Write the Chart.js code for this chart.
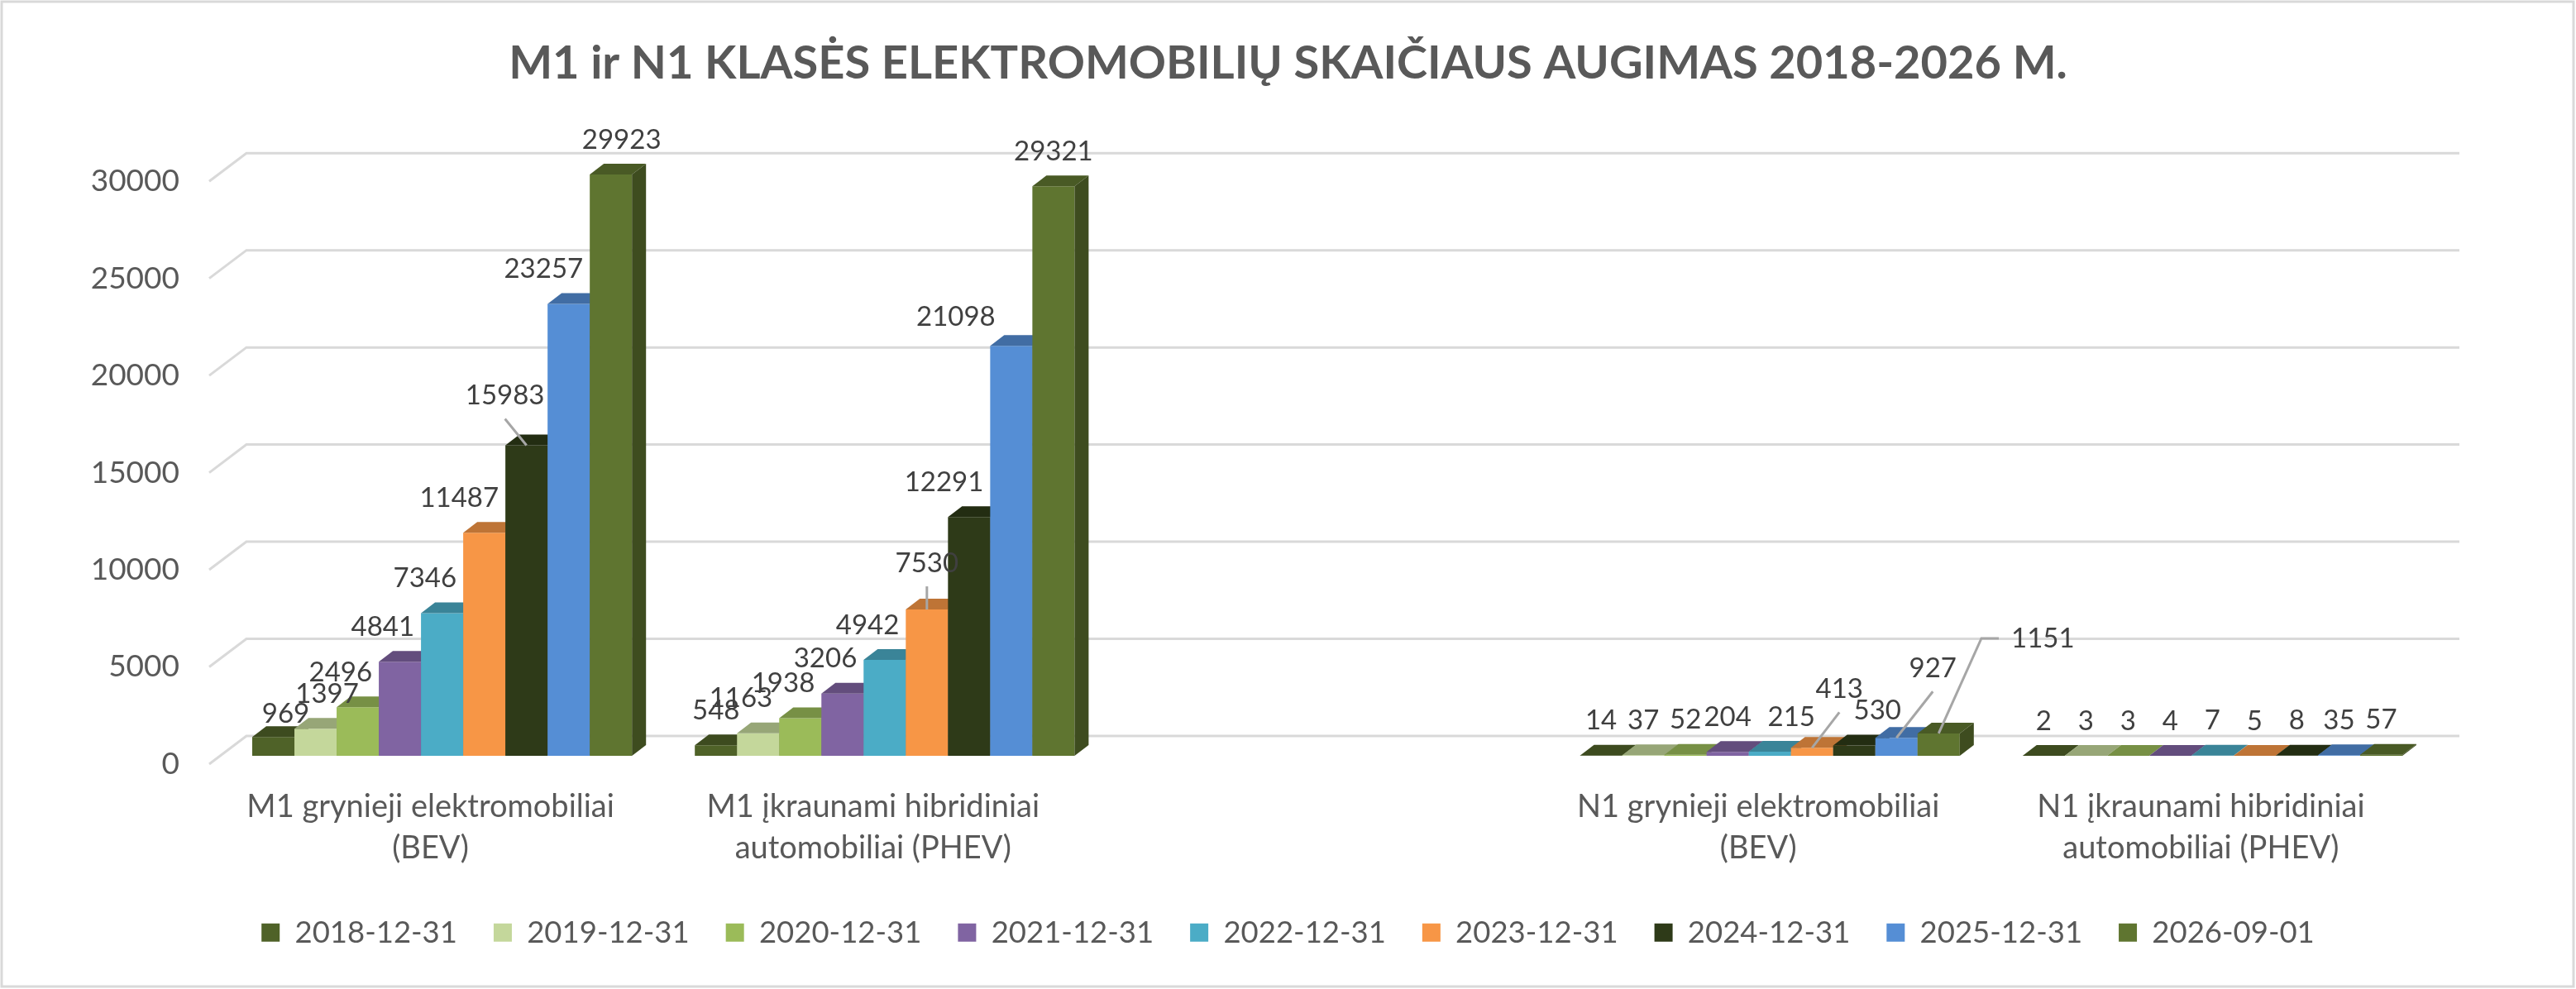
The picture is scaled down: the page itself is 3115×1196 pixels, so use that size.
<!DOCTYPE html>
<html lang="lt">
<head>
<meta charset="utf-8">
<title>M1 ir N1 klasės elektromobilių skaičiaus augimas</title>
<script src="https://cdn.jsdelivr.net/npm/chart.js@4.4.1/dist/chart.umd.min.js"></script>
<style>
  html, body { margin: 0; padding: 0; background: #ffffff; }
  canvas { display: block; }
</style>
</head>
<body>
<canvas id="grafikas" width="3115" height="1196"></canvas>
<script>
(function () {

    // --- duomenys ---
    var categories = [
        ['M1 grynieji elektromobiliai', '(BEV)'],
        ['M1 įkraunami hibridiniai', 'automobiliai (PHEV)'],
        '',
        ['N1 grynieji elektromobiliai', '(BEV)'],
        ['N1 įkraunami hibridiniai', 'automobiliai (PHEV)']
    ];
    var seriesLabels = ['2018-12-31', '2019-12-31', '2020-12-31', '2021-12-31', '2022-12-31',
                        '2023-12-31', '2024-12-31', '2025-12-31', '2026-09-01'];
    var m1Bev  = [969, 1397, 2496, 4841, 7346, 11487, 15983, 23257, 29923];
    var m1Phev = [548, 1163, 1938, 3206, 4942, 7530, 12291, 21098, 29321];
    var n1Bev  = [14, 37, 52, 204, 215, 413, 530, 927, 1151];
    var n1Phev = [2, 3, 3, 4, 7, 5, 8, 35, 57];
    var yTicks = [0, 5000, 10000, 15000, 20000, 25000, 30000];

    // --- stilius ---
    var seriesColors = ['#4F6228', '#C4D79B', '#9BBB59', '#8064A2', '#4BACC6',
                        '#F79646', '#2E3A18', '#558ED5', '#5F7530'];
    var FONT = 'Lato';
    var TEXT = '#595959';
    var GRID = '#D9D9D9';
    var BOTTOM_PAD = 40;
    // 3D: galine siena, stulpeliu plokstuma, stulpelio gylis
    var wall = { x: 45, y: -34 };
    var shift = { x: 14, y: -10 };
    var deep = { x: 17, y: -13 };
    // etikeciu pataisos: 'kategorija:serija' -> [dx, dy, linija]
    var labelNudges = {
        '0:0': [15, 14], '0:1': [14, 0], '0:6': [-26, -18, 'below'], '0:8': [13, 0],
        '1:5': [0, -14, 'below'], '1:7': [-67, 7],
        '3:4': [26, 0], '3:5': [33, -29, 'below'], '3:6': [28, 0],
        '3:7': [44, -42, 'below'], '3:8': [126, -73, 'left']
    };

    var seriesValues = seriesLabels.map(function (s, i) {
        return [m1Bev[i], m1Phev[i], null, n1Bev[i], n1Phev[i]];
    });

    function shade(hex, f) {
        var n = parseInt(hex.slice(1), 16);
        var r = Math.round(((n >> 16) & 255) * f);
        var g = Math.round(((n >> 8) & 255) * f);
        var b = Math.round((n & 255) * f);
        return 'rgb(' + r + ',' + g + ',' + b + ')';
    }

    var threeD = {
        id: 'threeD',
        beforeDraw: function (chart) {
            var ctx = chart.ctx;
            ctx.save();
            ctx.fillStyle = '#ffffff';
            ctx.fillRect(0, 0, chart.width, chart.height);
            ctx.strokeStyle = GRID;
            ctx.lineWidth = 3;
            ctx.strokeRect(2, 2, chart.width - 5, chart.height - 5);
            ctx.restore();
        },
        beforeDatasetsDraw: function (chart) {
            var ctx = chart.ctx;
            var area = chart.chartArea;
            var y = chart.scales.y;

            // tinklelis ant galines sienos
            ctx.save();
            ctx.strokeStyle = GRID;
            ctx.lineWidth = 3;
            yTicks.forEach(function (v) {
                var py = y.getPixelForValue(v);
                ctx.beginPath();
                ctx.moveTo(area.left, py);
                ctx.lineTo(area.left + wall.x, py + wall.y);
                ctx.lineTo(area.right + wall.x, py + wall.y);
                ctx.stroke();
            });
            ctx.restore();

            // stulpeliai is kaires i desine
            var rects = [];
            ctx.save();
            ctx.translate(shift.x, shift.y);
            chart.data.datasets.forEach(function (ds, i) {
                var meta = chart.getDatasetMeta(i);
                rects[i] = [];
                meta.data.forEach(function (bar, j) {
                    if (ds.data[j] == null) { return; }
                    var p = bar.getProps(['x', 'y', 'base', 'width'], true);
                    var l = p.x - p.width / 2, r = p.x + p.width / 2;
                    bar.draw(ctx);
                    ctx.fillStyle = shade(ds.backgroundColor, 0.77);
                    ctx.beginPath();
                    ctx.moveTo(l, p.y);
                    ctx.lineTo(r, p.y);
                    ctx.lineTo(r + deep.x, p.y + deep.y);
                    ctx.lineTo(l + deep.x, p.y + deep.y);
                    ctx.closePath();
                    ctx.fill();
                    ctx.fillStyle = shade(ds.backgroundColor, 0.65);
                    ctx.beginPath();
                    ctx.moveTo(r, p.y);
                    ctx.lineTo(r + deep.x, p.y + deep.y);
                    ctx.lineTo(r + deep.x, p.base + deep.y);
                    ctx.lineTo(r, p.base);
                    ctx.closePath();
                    ctx.fill();
                    rects[i][j] = { l: l + shift.x, r: r + shift.x, top: p.y + shift.y };
                });
            });
            ctx.restore();

            // reiksmiu etiketes
            ctx.save();
            ctx.font = '33px ' + FONT;
            ctx.fillStyle = '#404040';
            ctx.textAlign = 'center';
            ctx.textBaseline = 'middle';
            ctx.strokeStyle = '#A6A6A6';
            ctx.lineWidth = 3;
            chart.data.datasets.forEach(function (ds, i) {
                ds.data.forEach(function (v, j) {
                    if (v == null) { return; }
                    var rc = rects[i][j];
                    var bx = (rc.l + rc.r) / 2;
                    var cx = bx, cy = rc.top - 42;
                    var txt = String(v);
                    var w = ctx.measureText(txt).width;
                    var nudge = labelNudges[j + ':' + i];
                    if (nudge) {
                        cx += nudge[0];
                        cy += nudge[1];
                        ctx.beginPath();
                        if (nudge[2] === 'below') {
                            ctx.moveTo(cx, cy + 28);
                            ctx.lineTo(bx, rc.top);
                            ctx.stroke();
                        } else if (nudge[2] === 'left') {
                            ctx.moveTo(cx - w / 2 - 15, cy);
                            ctx.lineTo(cx - w / 2 - 36, cy);
                            ctx.lineTo(bx, rc.top);
                            ctx.stroke();
                        }
                    } else if (rects[i + 1] && rects[i + 1][j]) {
                        var nx = rects[i + 1][j];
                        if (nx.top + deep.y < cy + 11 && cx + w / 2 > nx.l - 8) {
                            cx = nx.l - 8 - w / 2;
                        }
                    }
                    ctx.fillText(txt, cx, cy);
                });
            });
            ctx.restore();
            return false;
        }
    };

    var ctx = document.getElementById('grafikas').getContext('2d');
    var grafikas = new Chart(ctx, {
        type: 'bar',
        data: {
            labels: categories,
            datasets: seriesLabels.map(function (s, i) {
                return {
                    label: s,
                    data: seriesValues[i],
                    backgroundColor: seriesColors[i],
                    borderWidth: 0,
                    categoryPercentage: 0.858,
                    barPercentage: 1.0
                };
            })
        },
        options: {
            responsive: false,
            animation: false,
            devicePixelRatio: 1,
            layout: {
                padding: { left: 0, right: 0, top: 0, bottom: BOTTOM_PAD }
            },
            plugins: {
                title: {
                    display: true,
                    text: 'M1 ir N1 KLASĖS ELEKTROMOBILIŲ SKAIČIAUS AUGIMAS 2018-2026 M.',
                    color: TEXT,
                    font: { family: FONT, size: 56, weight: 'bold', lineHeight: 1.2 },
                    padding: { top: 43, bottom: 109 }
                },
                legend: {
                    position: 'bottom',
                    labels: {
                        boxWidth: 22,
                        boxHeight: 22,
                        padding: 44,
                        color: TEXT,
                        font: { family: FONT, size: 36.5 }
                    }
                },
                tooltip: { enabled: false }
            },
            scales: {
                x: {
                    grid: { display: false, drawTicks: false },
                    border: { display: false },
                    ticks: {
                        color: TEXT,
                        font: { family: FONT, size: 38, lineHeight: 1.32 },
                        padding: 27,
                        maxRotation: 0,
                        autoSkip: false
                    },
                    afterFit: function (scale) {
                        var lg = scale.chart.legend;
                        scale.height = scale.chart.height - BOTTOM_PAD - (lg ? lg.height : 0) - 924;
                    }
                },
                y: {
                    min: 0,
                    max: 30000,
                    grid: { display: false, drawTicks: false },
                    border: { display: false },
                    ticks: {
                        stepSize: 5000,
                        color: TEXT,
                        padding: 36,
                        font: { family: FONT, size: 37 },
                        callback: function (v) { return String(v); }
                    },
                    afterFit: function (scale) {
                        scale.width = 253;
                    }
                },
                // tuscia vieta desineje, kad antraste ir legenda butu centre
                yRight: {
                    position: 'right',
                    display: true,
                    grid: { display: false, drawTicks: false },
                    border: { display: false },
                    ticks: { display: false },
                    afterFit: function (scale) {
                        scale.width = 186;
                    }
                }
            }
        },
        plugins: [threeD]
    });

})();
</script>
</body>
</html>
